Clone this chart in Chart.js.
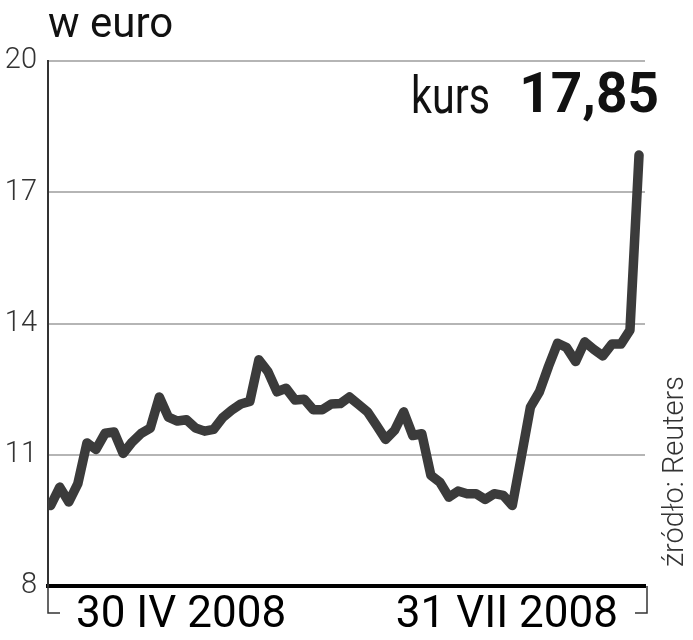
<!DOCTYPE html>
<html>
<head>
<meta charset="utf-8">
<script src="https://cdn.jsdelivr.net/npm/chart.js@4/dist/chart.umd.min.js"></script>
<style>
html,body{margin:0;padding:0;background:#fff;}
#wrap{width:693px;height:640px;}
</style>
</head>
<body>
<div id="wrap"><canvas id="c" width="693" height="640"></canvas></div>
<script>
// --- data ---
const dayIndex = Array.from({length: 66}, (_, i) => i);
const kursValues = [
  9.84,10.26,9.92,10.34,11.27,11.12,11.49,11.52,11.03,11.29,
  11.49,11.61,12.32,11.86,11.77,11.80,11.61,11.54,11.58,11.85,
  12.02,12.16,12.22,13.17,12.90,12.44,12.52,12.25,12.27,12.03,
  12.03,12.16,12.17,12.32,12.15,11.98,11.67,11.35,11.56,11.98,
  11.44,11.48,10.53,10.37,10.03,10.17,10.11,10.11,9.98,10.11,
  10.07,9.84,10.96,12.09,12.44,13.02,13.55,13.45,13.13,13.58,
  13.41,13.26,13.53,13.53,13.85,17.85
];
const xTickPositions = [14.4, 50.4];
const xTickLabels = ["30 IV 2008", "31 VII 2008"];
const yTicks = [8, 11, 14, 17, 20];
const unitLabel = "w euro";
const kursLabel = "kurs";
const kursValueText = "17,85";
const sourceText = "źródło: Reuters";

const points = dayIndex.map((d, i) => ({x: d, y: kursValues[i]}));

const decor = {
  id: 'decor',
  afterDraw(chart) {
    const ctx = chart.ctx;
    const a = chart.chartArea;
    ctx.save();
    // brackets
    ctx.strokeStyle = '#333';
    ctx.lineWidth = 1.5;
    ctx.beginPath();
    ctx.moveTo(a.left, a.bottom);
    ctx.lineTo(a.left, a.bottom + 27);
    ctx.lineTo(a.left + 12, a.bottom + 27);
    ctx.moveTo(a.right + 2, a.bottom);
    ctx.lineTo(a.right + 2, a.bottom + 27);
    ctx.lineTo(a.right - 10, a.bottom + 27);
    ctx.stroke();
    // texts
    ctx.fillStyle = '#111';
    ctx.textBaseline = 'alphabetic';
    ctx.textAlign = 'left';
    ctx.font = '400 42px Roboto';
    ctx.fillText(unitLabel, a.left, 37);
    // condensed "kurs"
    ctx.save();
    ctx.font = '400 52px Roboto';
    const w = ctx.measureText(kursLabel).width;
    const sx = 79 / w;
    ctx.translate(411, 113);
    ctx.scale(sx, 1);
    ctx.fillText(kursLabel, 0, 0);
    ctx.restore();
    ctx.font = '700 55px Roboto';
    ctx.textAlign = 'right';
    ctx.fillText(kursValueText, 659, 112);
    // source rotated
    ctx.save();
    ctx.translate(683, 567);
    ctx.rotate(-Math.PI / 2);
    ctx.textAlign = 'left';
    ctx.fillStyle = '#333';
    ctx.font = '300 29px Roboto';
    ctx.fillText(sourceText, 0, 0);
    ctx.restore();
    ctx.restore();
  }
};

new Chart(document.getElementById('c'), {
  type: 'line',
  data: {
    datasets: [{
      data: points,
      borderColor: '#3b3b3b',
      borderWidth: 9.5,
      borderJoinStyle: 'round',
      borderCapStyle: 'round',
      pointRadius: 0,
      tension: 0,
      fill: false
    }]
  },
  options: {
    responsive: false,
    animation: false,
    layout: {padding: {top: 61, right: 48, left: 0, bottom: 0}},
    plugins: {legend: {display: false}, tooltip: {enabled: false}, title: {display: false}},
    scales: {
      x: {
        type: 'linear',
        min: -0.3,
        max: 65.66,
        afterFit(s) { s.height = 54; },
        afterBuildTicks(s) { s.ticks = xTickPositions.map(v => ({value: v})); },
        grid: {display: false, drawTicks: false},
        border: {display: true, color: '#000', width: 4},
        ticks: {
          autoSkip: false,
          maxRotation: 0,
          padding: 4,
          color: '#000',
          font: {family: 'Roboto', size: 44, weight: '400'},
          callback(v) {
            const i = xTickPositions.indexOf(v);
            return i >= 0 ? xTickLabels[i] : '';
          }
        }
      },
      y: {
        min: 8,
        max: 20,
        afterFit(s) { s.width = 48; },
        afterBuildTicks(s) { s.ticks = yTicks.map(v => ({value: v})); },
        grid: {
          drawTicks: false,
          lineWidth: 2,
          color: (c) => c.tick && c.tick.value === 8 ? 'rgba(0,0,0,0)' : '#b5b5b5'
        },
        border: {display: true, color: '#333', width: 2},
        ticks: {
          padding: 11,
          color: '#333',
          font: {family: 'Roboto', size: 29, weight: '300'}
        }
      }
    }
  },
  plugins: [decor]
});
</script>
</body>
</html>
